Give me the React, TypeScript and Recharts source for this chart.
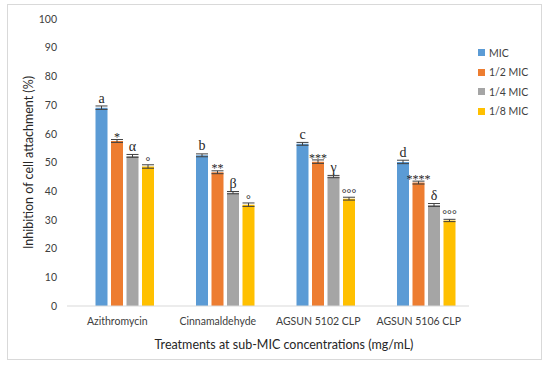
import { Bar, BarChart, ErrorBar, LabelList, XAxis, YAxis } from "recharts"

const categories = ["Azithromycin", "Cinnamaldehyde", "AGSUN 5102 CLP", "AGSUN 5106 CLP"]
const mic = [69.1, 52.5, 56.5, 50.2]
const half = [57.5, 46.6, 50.3, 43.0]
const quarter = [52.3, 39.5, 45.1, 35.2]
const eighth = [48.6, 35.3, 37.4, 29.8]
const micErr = [0.6, 0.5, 0.5, 0.6]
const halfErr = [0.5, 0.5, 0.6, 0.5]
const quarterErr = [0.5, 0.4, 0.4, 0.5]
const eighthErr = [0.6, 0.6, 0.5, 0.4]
const micMarks = ["a", "b", "c", "d"]
const halfMarks = ["*", "**", "***", "****"]
const quarterMarks = ["α", "β", "γ", "δ"]
const eighthMarks = ["°", "°", "°°°", "°°°"]
const yTicks = [0, 10, 20, 30, 40, 50, 60, 70, 80, 90, 100]

const series = [
  { key: "mic", name: "MIC", color: "#5B9BD5" },
  { key: "half", name: "1/2 MIC", color: "#ED7D31" },
  { key: "quarter", name: "1/4 MIC", color: "#A5A5A5" },
  { key: "eighth", name: "1/8 MIC", color: "#FFC000" },
]

const data = categories.map((name, i) => ({
  name,
  spacer: null,
  mic: mic[i],
  half: half[i],
  quarter: quarter[i],
  eighth: eighth[i],
  micErr: micErr[i],
  halfErr: halfErr[i],
  quarterErr: quarterErr[i],
  eighthErr: eighthErr[i],
  micMark: micMarks[i],
  halfMark: halfMarks[i],
  quarterMark: quarterMarks[i],
  eighthMark: eighthMarks[i],
}))

const font = "Lato, 'Open Sans', sans-serif"

function markLabel(size: number, lift: number) {
  return (props: any) => {
    const { x, y, width, value } = props
    return (
      <text
        x={x + width / 2}
        y={y - lift}
        textAnchor="middle"
        fontFamily="'Liberation Serif', 'DejaVu Serif', serif"
        fontSize={size}
        style={{ fill: "#262626" }}
      >
        {value}
      </text>
    )
  }
}

export default function App() {
  return (
    <div style={{ position: "absolute", left: 0, top: 0, width: 550, height: 367, background: "#fff" }}>
      <div
        style={{
          position: "absolute",
          left: 7,
          top: 4,
          width: 533,
          height: 354,
          border: "1px solid #d9d9d9",
        }}
      />
      <BarChart
        width={550}
        height={367}
        data={data}
        margin={{ top: 19, right: 81, bottom: 31, left: 0 }}
        barCategoryGap={13}
        barGap={3.5}
        style={{ position: "absolute", left: 0, top: 0 }}
      >
        <XAxis
          dataKey="name"
          height={30}
          tickLine={false}
          axisLine={{ stroke: "#d9d9d9" }}
          tick={{ fontSize: 10.5, fill: "#404040", fontFamily: font }}
          tickMargin={6}
          label={{
            value: "Treatments at sub-MIC concentrations (mg/mL)",
            position: "bottom",
            offset: 4,
            dx: 16,
            fontSize: 12.5,
            fill: "#262626",
            fontFamily: font,
          }}
        />
        <YAxis
          width={67}
          domain={[0, 100]}
          ticks={yTicks}
          tickLine={false}
          axisLine={false}
          tickMargin={4}
          tick={{ fontSize: 10.5, fill: "#404040", fontFamily: font }}
          label={{
            value: "Inhibition of cell attachment (%)",
            angle: -90,
            position: "insideLeft",
            dx: 24,
            dy: 0,
            fontSize: 12.5,
            fill: "#262626",
            fontFamily: font,
            style: { textAnchor: "middle" },
          }}
        />
        <Bar dataKey="spacer" fill="none" isAnimationActive={false} legendType="none" />
        <Bar dataKey="mic" name="MIC" fill="#5B9BD5" isAnimationActive={false}>
          <ErrorBar dataKey="micErr" width={6} stroke="#404040" strokeWidth={1} />
          <LabelList dataKey="micMark" content={markLabel(14, 5)} />
        </Bar>
        <Bar dataKey="half" name="1/2 MIC" fill="#ED7D31" isAnimationActive={false}>
          <ErrorBar dataKey="halfErr" width={6} stroke="#404040" strokeWidth={1} />
          <LabelList dataKey="halfMark" content={markLabel(12, 0)} />
        </Bar>
        <Bar dataKey="quarter" name="1/4 MIC" fill="#A5A5A5" isAnimationActive={false}>
          <ErrorBar dataKey="quarterErr" width={6} stroke="#404040" strokeWidth={1} />
          <LabelList dataKey="quarterMark" content={markLabel(14, 5)} />
        </Bar>
        <Bar dataKey="eighth" name="1/8 MIC" fill="#FFC000" isAnimationActive={false}>
          <ErrorBar dataKey="eighthErr" width={6} stroke="#404040" strokeWidth={1} />
          <LabelList dataKey="eighthMark" content={markLabel(12, 2)} />
        </Bar>
      </BarChart>
      <div style={{ position: "absolute", left: 478, top: 43, fontFamily: font, fontSize: 10.5, color: "#404040" }}>
        {series.map((s) => (
          <div key={s.key} style={{ display: "flex", alignItems: "center", height: 19.5 }}>
            <span style={{ width: 7, height: 7, background: s.color, marginRight: 4, display: "inline-block" }} />
            {s.name}
          </div>
        ))}
      </div>
    </div>
  )
}
